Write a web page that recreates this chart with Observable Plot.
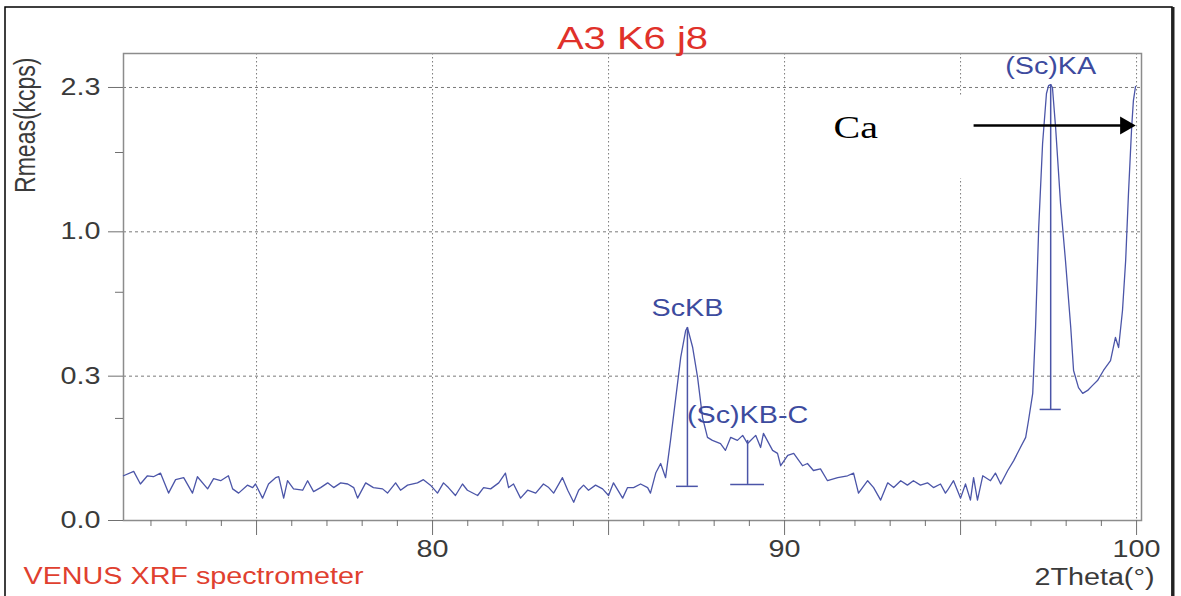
<!DOCTYPE html>
<html><head><meta charset="utf-8">
<script src="https://cdn.jsdelivr.net/npm/d3@7"></script>
<script src="https://cdn.jsdelivr.net/npm/@observablehq/plot@0.6"></script>
<style>body{margin:0;background:#fff}</style>
</head><body><div id="chart"></div>
<script>
// Spectrum: 2Theta (deg) and Rmeas (kcps)
const theta = [
  71.22, 71.51, 71.70, 71.90, 72.07, 72.27, 72.50, 72.70, 72.93, 73.18,
  73.32, 73.61, 73.78, 73.98, 74.20, 74.32, 74.49, 74.74, 74.89, 74.97,
  75.17, 75.34, 75.54, 75.63, 75.77, 75.88, 76.05, 76.31, 76.45, 76.62,
  76.82, 77.02, 77.19, 77.39, 77.59, 77.76, 77.87, 78.10, 78.32, 78.58,
  78.72, 78.95, 79.09, 79.29, 79.57, 79.74, 79.94, 80.14, 80.31, 80.45,
  80.65, 80.85, 80.99, 81.28, 81.45, 81.65, 81.88, 82.07, 82.16, 82.30,
  82.50, 82.70, 82.93, 83.15, 83.30, 83.44, 83.69, 83.84, 84.01, 84.15,
  84.29, 84.43, 84.63, 84.83, 85.00, 85.14, 85.40, 85.54, 85.71, 85.91,
  86.11, 86.19, 86.34, 86.48, 86.62, 86.76, 86.90, 87.05, 87.19, 87.24,
  87.39, 87.53, 87.67, 87.81, 87.95, 88.18, 88.32, 88.47, 88.66, 88.81,
  88.95, 89.18, 89.32, 89.40, 89.66, 89.80, 89.89, 90.09, 90.26, 90.51,
  90.65, 90.82, 91.02, 91.22, 91.51, 91.79, 91.96, 92.10, 92.36, 92.53,
  92.73, 92.93, 93.10, 93.30, 93.49, 93.66, 93.86, 94.06, 94.23, 94.43,
  94.57, 94.63, 94.80, 95.00, 95.14, 95.28, 95.37, 95.48, 95.63, 95.85,
  95.99, 96.14, 96.34, 96.51, 96.70, 96.85, 96.93, 97.05, 97.13, 97.22,
  97.33, 97.44, 97.50, 97.56, 97.61, 97.70, 97.84, 97.98, 98.13, 98.21,
  98.35, 98.47, 98.61, 98.75, 98.89, 99.06, 99.26, 99.40, 99.49, 99.60,
  99.69, 99.77, 99.86, 99.91, 99.97
];
const kcps = [
  0.024, 0.029, 0.016, 0.024, 0.023, 0.027, 0.009, 0.020, 0.022, 0.009,
  0.023, 0.012, 0.021, 0.019, 0.024, 0.012, 0.009, 0.015, 0.013, 0.016,
  0.006, 0.016, 0.022, 0.023, 0.006, 0.019, 0.012, 0.011, 0.019, 0.010,
  0.013, 0.017, 0.013, 0.017, 0.016, 0.013, 0.006, 0.017, 0.013, 0.012,
  0.009, 0.017, 0.011, 0.015, 0.017, 0.020, 0.015, 0.009, 0.017, 0.013,
  0.0075, 0.016, 0.011, 0.0075, 0.013, 0.012, 0.017, 0.027, 0.013, 0.016,
  0.006, 0.011, 0.009, 0.016, 0.013, 0.009, 0.022, 0.011, 0.004, 0.011,
  0.015, 0.011, 0.015, 0.012, 0.0075, 0.017, 0.006, 0.013, 0.013, 0.016,
  0.013, 0.009, 0.027, 0.039, 0.022, 0.077, 0.173, 0.319, 0.433, 0.447,
  0.359, 0.245, 0.127, 0.083, 0.077, 0.071, 0.059, 0.083, 0.077, 0.087,
  0.071, 0.087, 0.064, 0.091, 0.059, 0.054, 0.036, 0.051, 0.054, 0.036,
  0.039, 0.030, 0.032, 0.019, 0.022, 0.024, 0.027, 0.009, 0.019, 0.013,
  0.005, 0.017, 0.013, 0.019, 0.015, 0.019, 0.015, 0.017, 0.013, 0.016,
  0.009, 0.011, 0.019, 0.006, 0.016, 0.005, 0.022, 0.005, 0.024, 0.019,
  0.027, 0.016, 0.030, 0.043, 0.064, 0.083, 0.120, 0.194, 0.447, 1.030,
  1.705, 2.188, 2.270, 2.280, 2.250, 1.853, 1.206, 0.811, 0.447, 0.270,
  0.212, 0.194, 0.203, 0.219, 0.235, 0.270, 0.307, 0.402, 0.359, 0.529,
  0.811, 1.283, 1.853, 2.116, 2.260
];

// Axes
const xDomain = [71.22, 100.14];
const yDomain = [0, 2.617];
const xMajorTicks = [75, 80, 85, 90, 95, 100];
const xTickLabels = {80: "80", 90: "90", 100: "100"};
const xMinorTicks = [72,73,74,76,77,78,79,81,82,83,84,86,87,88,89,91,92,93,94,96,97,98,99];
const yTicks = [0, 0.25, 1, 2.25];
const yTickLabels = ["0.0", "0.3", "1.0", "2.3"];
const yMinorTicks = [0.125, 0.625, 1.625];

// Peak markers
const peakNames = ["ScKB", "(Sc)KB-C", "(Sc)KA"];
const peakTheta = [87.24, 88.95, 97.56];
const peakTop = [0.447, 0.077, 2.28];
const peakBase = [0.014, 0.0156, 0.148];
const peakHalfWidth = [0.31, 0.48, 0.30];

// Texts
const titleText = "A3 K6 j8";
const footerText = "VENUS XRF spectrometer";
const xLabel = "2Theta(°)";
const yLabel = "Rmeas(kcps)";
const caText = "Ca";
const caTheta = 91.39, caKcps = 1.76;
const arrowFrom = 95.37, arrowTo = 99.60, arrowHead = 99.68, arrowKcps = 1.872;
const patch = {x1: 94.72, x2: 95.23, y1: 1.403, y2: 2.167};

const lineColor = "#4b55a8";
const labelColor = "#3d4b9e";
const font = "'Liberation Sans', Arial, sans-serif";
const idx = peakNames.map((_, i) => i);

const svg = Plot.plot({
  width: 1181, height: 596,
  marginLeft: 123, marginRight: 40, marginTop: 53, marginBottom: 76,
  style: {background: "white", fontFamily: font, fontSize: "23px", color: "#3a3a3a"},
  x: {domain: xDomain, label: null},
  y: {type: "sqrt", domain: yDomain, label: null},
  marks: [
    Plot.gridX(xMajorTicks, {stroke: "#7a7a7a", strokeOpacity: 1, strokeDasharray: "1.5,2.5"}),
    Plot.gridY(yTicks.slice(1), {stroke: "#7a7a7a", strokeOpacity: 1, strokeDasharray: "3,3"}),
    Plot.rect([patch], {x1: "x1", x2: "x2", y1: "y1", y2: "y2", fill: "white"}),
    Plot.frame({stroke: "#8c8c8c", strokeWidth: 1.5}),
    Plot.axisX(xMajorTicks, {tickSize: 15, tickPadding: 5, tickFormat: d => xTickLabels[d] ?? "", stroke: "#707070", fill: "#3a3a3a", fontSize: 23, label: null}),
    Plot.axisX(xMinorTicks, {tickSize: 6, tickFormat: () => "", stroke: "#707070", label: null}),
    Plot.axisY(yTicks, {tickSize: 15, tickPadding: 8, tickFormat: d => yTickLabels[yTicks.indexOf(d)], stroke: "#707070", fill: "#3a3a3a", fontSize: 23, label: null}),
    Plot.axisY(yMinorTicks, {tickSize: 8, tickFormat: () => "", stroke: "#707070", label: null}),
    Plot.line({length: theta.length}, {x: theta, y: kcps, stroke: lineColor, strokeWidth: 1.3}),
    Plot.ruleX(idx, {x: i => peakTheta[i], y1: i => peakBase[i], y2: i => peakTop[i], stroke: lineColor, strokeWidth: 1.5}),
    Plot.ruleY(idx, {y: i => peakBase[i], x1: i => peakTheta[i] - peakHalfWidth[i], x2: i => peakTheta[i] + peakHalfWidth[i], stroke: lineColor, strokeWidth: 1.5}),
    Plot.text([0], {x: peakTheta[0], y: peakTop[0], text: () => peakNames[0], fill: labelColor, fontSize: 23, lineAnchor: "bottom", dy: -11}),
    Plot.text([1], {x: peakTheta[1], y: peakTop[1], text: () => peakNames[1], fill: labelColor, fontSize: 23, lineAnchor: "bottom", dy: -17}),
    Plot.text([2], {x: peakTheta[2], y: peakTop[2], text: () => peakNames[2], fill: labelColor, fontSize: 23, lineAnchor: "bottom", dy: -11}),
    Plot.text([caText], {x: caTheta, y: caKcps, text: d => d, textAnchor: "start", lineAnchor: "bottom", fontFamily: "'Liberation Serif', 'Times New Roman', serif", fontSize: 32, fill: "black", ariaLabel: "ca"}),
    Plot.link([0], {x1: arrowFrom, x2: arrowTo, y1: arrowKcps, y2: arrowKcps, stroke: "black", strokeWidth: 2.5}),
    Plot.dot([0], {x: arrowHead, y: arrowKcps, symbol: "triangle", r: 6.7, rotate: 90, fill: "black", stroke: null}),
    Plot.text([titleText], {frameAnchor: "top", text: d => d, lineAnchor: "bottom", dy: -5, fontSize: 32, fill: "#e0312a"}),
    Plot.text([footerText], {frameAnchor: "bottom-left", text: d => d, textAnchor: "start", lineAnchor: "bottom", dx: -100, dy: 63, fontSize: 23, fill: "#e0402f"}),
    Plot.text([xLabel], {frameAnchor: "bottom-right", text: d => d, textAnchor: "end", lineAnchor: "bottom", dx: 13, dy: 64, fontSize: 23, fill: "#3a3a3a"}),
    Plot.text([yLabel], {frameAnchor: "top-left", text: d => d, textAnchor: "end", lineAnchor: "bottom", rotate: -90, dx: -89, dy: 4, fontSize: 23, fill: "#3a3a3a"})
  ]
});

// The reference's lettering is horizontally stretched.
const S = 1.25;
d3.select(svg).selectAll("text").each(function () {
  if (this.closest('[aria-label="ca"]')) return;
  const t = this.getAttribute("transform") || "";
  if (t.includes("rotate(")) this.setAttribute("transform", t.replace("rotate(", `scale(${S},1) rotate(`));
  else this.setAttribute("transform", t + ` scale(${S},1)`);
});

// outer border
const sel = d3.select(svg);
sel.append("rect").attr("x", 5).attr("y", 7).attr("width", 1167).attr("height", 600)
  .attr("fill", "none").attr("stroke", "black").attr("stroke-width", 1.5);
sel.append("line").attr("x1", 1173).attr("x2", 1173).attr("y1", 7).attr("y2", 596)
  .attr("stroke", "#222").attr("stroke-width", 3);

document.getElementById("chart").appendChild(svg);
</script>
</body></html>
